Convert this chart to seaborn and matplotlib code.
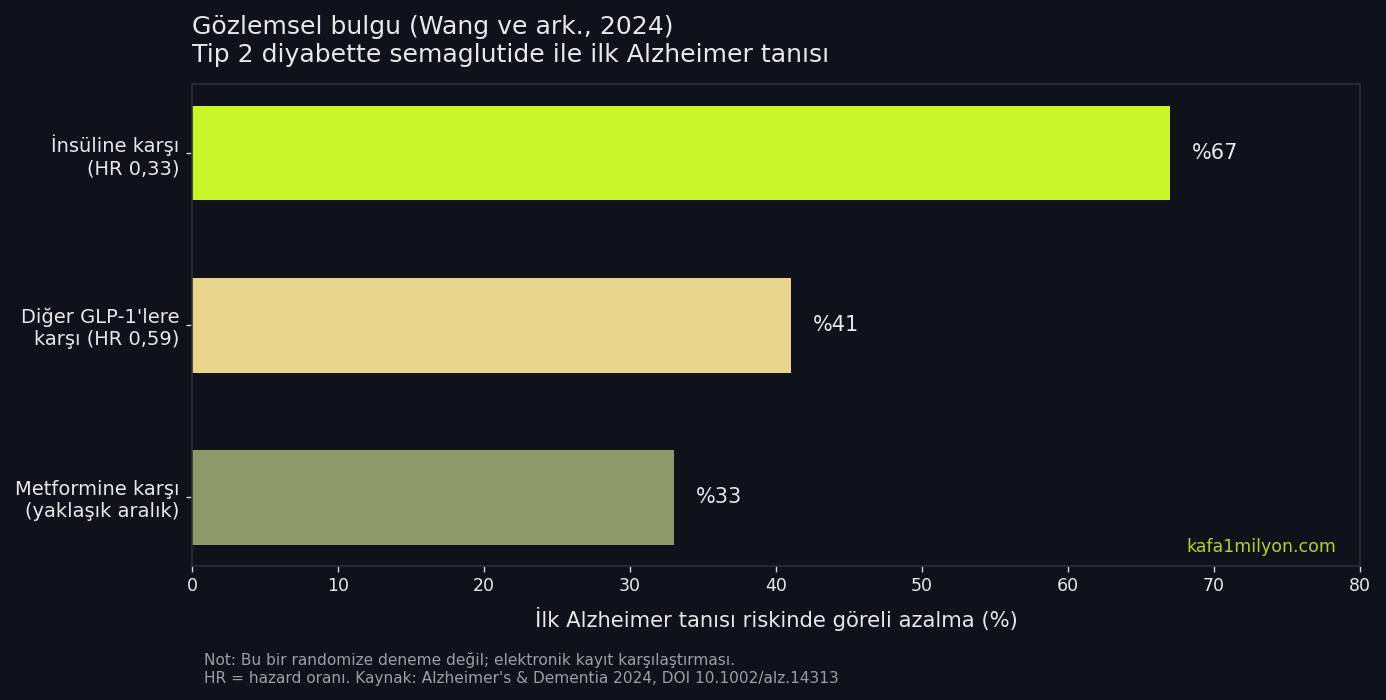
import matplotlib

matplotlib.use("Agg")
import matplotlib.pyplot as plt
import pandas as pd
import seaborn as sns

BG = "#0f121a"
TEXT = "#e8e8ea"
SPINE = "#2c303a"

categories = [
    "İnsüline karşı\n(HR 0,33)",
    "Diğer GLP-1'lere\nkarşı (HR 0,59)",
    "Metformine karşı\n(yaklaşık aralık)",
]
reduction = [67, 41, 33]
bar_colors = ["#caf52a", "#e8d48c", "#8c9a6a"]
xticks = [0, 10, 20, 30, 40, 50, 60, 70, 80]

df = pd.DataFrame({"group": categories, "value": reduction})

sns.set_theme(style="dark")
plt.rcParams["font.family"] = ["DejaVu Sans"]

fig, ax = plt.subplots(figsize=(13.86, 7.0), dpi=100)
fig.patch.set_facecolor(BG)
ax.set_facecolor(BG)

sns.barplot(
    data=df,
    x="value",
    y="group",
    hue="group",
    palette=bar_colors,
    legend=False,
    width=0.55,
    saturation=1,
    edgecolor="none",
    linewidth=0,
    ax=ax,
)

# value labels next to the bars
for i, v in enumerate(reduction):
    ax.text(v + 1.5, i, f"%{v}", va="center", ha="left", color=TEXT, fontsize=15)

ax.set_xlim(0, 80)
ax.set_ylim(2.4, -0.4)
ax.set_xticks(xticks)
ax.set_xlabel("İlk Alzheimer tanısı riskinde göreli azalma (%)", color=TEXT, fontsize=15.2, labelpad=8)
ax.set_ylabel("")
ax.tick_params(axis="x", colors="#d8d8dc", labelcolor=TEXT, labelsize=12.5, length=4, width=1, bottom=True, pad=4)
ax.tick_params(axis="y", colors="#d8d8dc", labelcolor=TEXT, labelsize=14, length=4, width=1, left=True, pad=5)
ax.grid(False)
for s in ax.spines.values():
    s.set_visible(True)
    s.set_color(SPINE)
    s.set_linewidth(1.2)

ax.set_title(
    "Gözlemsel bulgu (Wang ve ark., 2024)\nTip 2 diyabette semaglutide ile ilk Alzheimer tanısı",
    loc="left",
    color=TEXT,
    fontsize=18.1,
    pad=16,
    linespacing=1.2,
)

ax.text(0.98, 0.04, "kafa1milyon.com", transform=ax.transAxes, ha="right", va="center",
        color="#b5d12a", fontsize=12.5)

fig.text(0.147, 0.0436,
         "Not: Bu bir randomize deneme değil; elektronik kayıt karşılaştırması.\n"
         "HR = hazard oranı. Kaynak: Alzheimer's & Dementia 2024, DOI 10.1002/alz.14313",
         color="#9a9fa8", fontsize=11.1, ha="left", va="center", linespacing=1.25)

fig.subplots_adjust(left=0.1385, right=0.9813, top=0.88, bottom=0.191)
fig.savefig("out.png", dpi=100, facecolor=BG)
